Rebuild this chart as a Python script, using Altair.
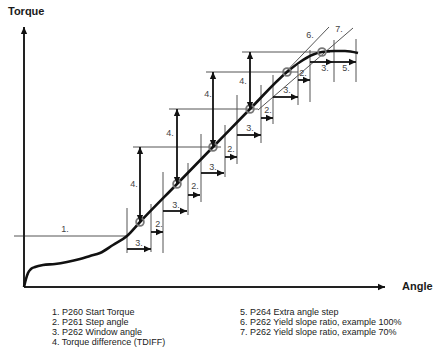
import altair as alt
import pandas as pd

# ---------------- data (angle / torque units) ----------------
curve_angle = [0, 2, 4, 7, 11, 19, 31, 43, 56, 66, 76, 89, 103, 116, 153, 189, 226, 263, 276, 288, 298, 311, 321, 334]
curve_torque = [0, 8, 14, 18, 20, 22, 23, 25, 28, 31, 34, 42, 51, 65, 103, 140, 178, 215, 225, 232, 235, 236, 236, 234]

start_line = {"a1": -10, "a2": 103, "t": 51}

tick_angle = [103, 127, 139, 164, 177, 201, 213, 237, 249, 274, 286, 310, 332]
tick_top = [79, 83, 115, 124, 153, 162, 192, 202, 212, 222, 237, 247, 248]
tick_bottom = [34, 35, 34, 72, 85, 110, 123, 144, 163, 182, 185, 205, 205]

win_start = [103, 139, 177, 213, 249, 286]
win_end = [127, 163, 200, 237, 274, 309]
win_torque = [38, 76, 114, 152, 190, 225]
win_lab_a = [115, 152, 189, 226, 263, 301]
win_lab_t = [44, 82, 120, 159, 197, 219]

step_start = [127, 164, 201, 237, 274]
step_end = [139, 176, 213, 249, 286]
step_torque = [55, 92, 130, 169, 207]
step_lab_a = [135, 171, 207, 244, 279]
step_lab_t = [63, 101, 138, 177, 214]

extra_start = [309]
extra_end = [332]
extra_torque = [225]
extra_lab_a = [322]
extra_lab_t = [219]

check_angle = [116, 153, 189, 226, 263, 298]
check_torque = [65, 103, 140, 178, 215, 235]

tdiff_angle = [116, 153, 189, 226]
tdiff_low = [65, 103, 140, 178]
tdiff_high = [140, 178, 215, 235]
tdiff_line_from = [109, 145, 182, 218]
tdiff_line_to = [197, 234, 274, 306]
tdiff_lab_a = [110, 146, 184, 219]
tdiff_lab_t = [103, 154, 193, 206]

yield6 = [226, 178, 305, 260]
yield7 = [234, 177, 329, 259]

axis_x_end = 361
axis_y_end = 260

legend_left = ["1. P260 Start Torque", "2. P261 Step angle", "3. P262 Window angle",
               "4. Torque difference (TDIFF)"]
legend_right = ["5. P264 Extra angle step", "6. P262 Yield slope ratio, example 100%",
                "7. P262 Yield slope ratio, example 70%"]
legend_left_a = 28
legend_right_a = 216
legend_rows_t = [-25, -35, -45, -55]

# ---------------- scales ----------------
xs = alt.Scale(domain=[-24, 414], nice=False, zero=False)
ys = alt.Scale(domain=[-64, 287], nice=False, zero=False)
FONT = "Liberation Sans"

def seg_df(a1, t1, a2, t2):
    return pd.DataFrame({"a1": a1, "t1": t1, "a2": a2, "t2": t2})

def rules(df, width, color):
    return alt.Chart(df).mark_rule(strokeWidth=width, color=color).encode(
        x=alt.X("a1:Q", scale=xs, axis=None), x2="a2:Q",
        y=alt.Y("t1:Q", scale=ys, axis=None), y2="t2:Q")

# thin grey construction lines
thin = []
thin.append(seg_df([start_line["a1"]], [start_line["t"]], [start_line["a2"]], [start_line["t"]]))
thin.append(seg_df(tick_angle, tick_bottom, tick_angle, tick_top))
thin.append(seg_df(tdiff_line_from, tdiff_high, tdiff_line_to, tdiff_high))
thin.append(seg_df([yield6[0], yield7[0]], [yield6[1], yield7[1]], [yield6[2], yield7[2]], [yield6[3], yield7[3]]))
thin_df = pd.concat(thin, ignore_index=True)

# arrow shafts
h_start = win_start + step_start + extra_start
h_end = win_end + step_end + extra_end
h_t = win_torque + step_torque + extra_torque
shaft_df = pd.concat([
    seg_df(h_start, h_t, h_end, h_t),
    seg_df(tdiff_angle, tdiff_low, tdiff_angle, tdiff_high),
], ignore_index=True)

axes_df = seg_df([0, 0], [0, 0], [axis_x_end, 0], [0, axis_y_end])

# arrow heads (tip at the point, rotated)
head_df = pd.DataFrame({
    "a": h_end + tdiff_angle + tdiff_angle + [axis_x_end, 0],
    "t": h_t + tdiff_high + tdiff_low + [0, axis_y_end],
    "rot": [0] * len(h_end) + [270] * len(tdiff_angle) + [90] * len(tdiff_angle) + [0, 270],
})
ARROW = "M0,0L-1,-0.45L-1,0.45Z"
heads = alt.Chart(head_df).mark_point(shape=ARROW, filled=True, size=196, color="#111",
                                       strokeWidth=0, opacity=1).encode(
    x=alt.X("a:Q", scale=xs, axis=None),
    y=alt.Y("t:Q", scale=ys, axis=None),
    angle=alt.Angle("rot:Q", scale=None))

curve = alt.Chart(pd.DataFrame({"a": curve_angle, "t": curve_torque})).mark_line(
    interpolate="monotone", strokeWidth=2.6, color="#111").encode(
    x=alt.X("a:Q", scale=xs, axis=None), y=alt.Y("t:Q", scale=ys, axis=None))

circles = alt.Chart(pd.DataFrame({"a": check_angle, "t": check_torque})).mark_point(
    shape="circle", size=60, filled=False, stroke="#777", strokeWidth=1.8, opacity=1).encode(
    x=alt.X("a:Q", scale=xs, axis=None), y=alt.Y("t:Q", scale=ys, axis=None))

lab_df = pd.DataFrame({
    "a": win_lab_a + step_lab_a + extra_lab_a + tdiff_lab_a + [41, 286, 315],
    "t": win_lab_t + step_lab_t + extra_lab_t + tdiff_lab_t + [58, 252, 258],
    "txt": ["3."] * len(win_lab_a) + ["2."] * len(step_lab_a) + ["5."] * len(extra_lab_a)
           + ["4."] * len(tdiff_lab_a) + ["1.", "6.", "7."],
})
labels = alt.Chart(lab_df).mark_text(font=FONT, fontSize=9, color="#444").encode(
    x=alt.X("a:Q", scale=xs, axis=None), y=alt.Y("t:Q", scale=ys, axis=None), text="txt:N")

leg_df = pd.DataFrame({
    "a": [legend_left_a] * len(legend_left) + [legend_right_a] * len(legend_right),
    "t": legend_rows_t[:len(legend_left)] + legend_rows_t[:len(legend_right)],
    "txt": legend_left + legend_right,
})
legend = alt.Chart(leg_df).mark_text(font=FONT, fontSize=9, color="#1a1a1a", align="left",
                                     baseline="middle").encode(
    x=alt.X("a:Q", scale=xs, axis=None), y=alt.Y("t:Q", scale=ys, axis=None), text="txt:N")

titles_df = pd.DataFrame({"a": [-16, 378], "t": [275, 0], "txt": ["Torque", "Angle"]})
titles = alt.Chart(titles_df).mark_text(font=FONT, fontSize=11, fontWeight="bold", color="#1a1a1a",
                                        align="left", baseline="middle").encode(
    x=alt.X("a:Q", scale=xs, axis=None), y=alt.Y("t:Q", scale=ys, axis=None), text="txt:N")

chart = alt.layer(
    rules(thin_df, 1.0, "#555"),
    rules(axes_df, 2.0, "#222"),
    rules(shaft_df, 1.8, "#111"),
    curve,
    circles,
    heads,
    labels,
    legend,
    titles,
).properties(width=438, height=351, padding=0, autosize="none", background="white"
).configure_view(stroke=None)

chart.save("out.html", embed_options={"renderer": "svg", "actions": False})
